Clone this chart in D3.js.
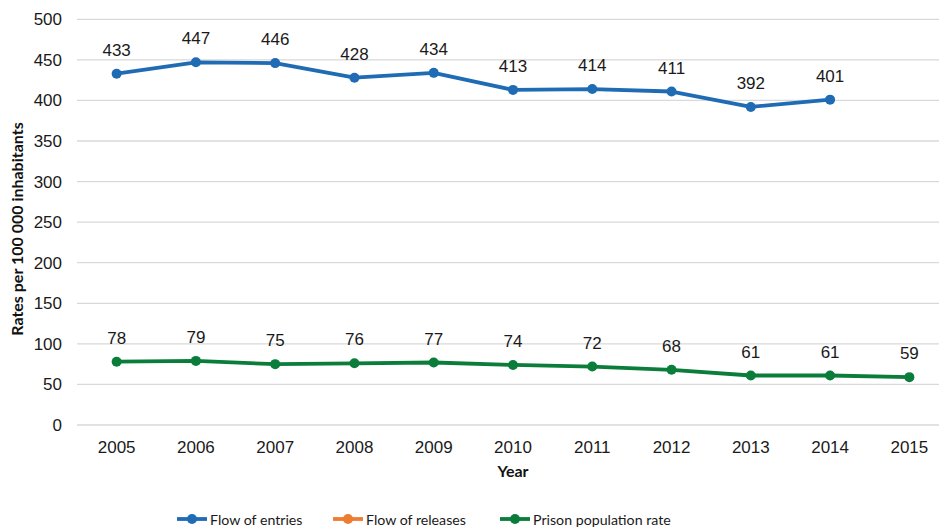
<!DOCTYPE html>
<html><head><meta charset="utf-8">
<script src="https://cdn.jsdelivr.net/npm/d3@7"></script>
<style>
html,body{margin:0;padding:0;background:#fff;}
svg{display:block;}
</style></head>
<body>
<svg id="chart" width="939" height="529"></svg>
<script>
const years = ["2005","2006","2007","2008","2009","2010","2011","2012","2013","2014","2015"];
const flowOfEntries = [433,447,446,428,434,413,414,411,392,401,null];
const flowOfReleases = [null,null,null,null,null,null,null,null,null,null,null];
const prisonPopulationRate = [78,79,75,76,77,74,72,68,61,61,59];
const yTicks = [0,50,100,150,200,250,300,350,400,450,500];
const seriesNames = ["Flow of entries","Flow of releases","Prison population rate"];
const seriesColors = ["#1f6cb4","#ed7d31","#0b7d3a"];

const series = [flowOfEntries, flowOfReleases, prisonPopulationRate];
const svg = d3.select("#chart");
const x = d3.scaleBand().domain(years).range([77, 949]);
const y = d3.scaleLinear().domain([0,500]).range([425, 19.3]);
const numFont = "'Liberation Sans', Arial, sans-serif";

// gridlines
svg.append("g").selectAll("line").data(yTicks).join("line")
  .attr("x1", 77).attr("x2", 939)
  .attr("y1", d => y(d)).attr("y2", d => y(d))
  .attr("stroke", "#d9d9d9").attr("stroke-width", 1.3);

// y axis labels
const yAxis = d3.axisLeft(y).tickValues(yTicks).tickSize(0).tickPadding(0);
const gy = svg.append("g").attr("transform","translate(62,0)").call(yAxis);
gy.select(".domain").remove();
gy.selectAll("text").attr("font-family",numFont).attr("font-size",17).attr("fill","#1a1a1a");

// x axis labels
const xAxis = d3.axisBottom(x).tickSize(0).tickPadding(0);
const gx = svg.append("g").attr("transform","translate(0,441)").call(xAxis);
gx.select(".domain").remove();
gx.selectAll("text").attr("font-family",numFont).attr("font-size",17).attr("fill","#1a1a1a");

// axis titles
svg.append("text").attr("x", 513).attr("y", 477).attr("text-anchor","middle")
  .attr("font-family","Lato, sans-serif").attr("font-weight","bold").attr("font-size",16).attr("fill","#111")
  .text("Year");
svg.append("text").attr("transform","translate(23,229) rotate(-90)").attr("text-anchor","middle")
  .attr("font-family","Lato, sans-serif").attr("font-weight","bold").attr("font-size",16).attr("fill","#111")
  .text("Rates per 100 000 inhabitants");

const cx = d => x(d) + x.bandwidth()/2;
const line = d3.line().defined(d => d.v != null).x(d => cx(d.year)).y(d => y(d.v));

series.forEach((vals, i) => {
  const pts = years.map((yr, j) => ({year: yr, v: vals[j]}));
  const g = svg.append("g");
  g.append("path").datum(pts).attr("d", line).attr("fill","none")
    .attr("stroke", seriesColors[i]).attr("stroke-width", 3.8).attr("stroke-linejoin","round");
  const valid = pts.filter(d => d.v != null);
  g.selectAll("circle").data(valid).join("circle")
    .attr("cx", d => cx(d.year)).attr("cy", d => y(d.v)).attr("r", 5).attr("fill", seriesColors[i]);
  g.selectAll("text").data(valid).join("text")
    .attr("x", d => cx(d.year)).attr("y", d => y(d.v) - 18).attr("text-anchor","middle")
    .attr("font-family",numFont).attr("font-size",17).attr("fill","#1a1a1a")
    .text(d => d.v);
});

// legend
const legendX = [177, 333, 500];
const lg = svg.append("g");
seriesNames.forEach((name, i) => {
  const gx0 = legendX[i];
  lg.append("line").attr("x1", gx0).attr("x2", gx0 + 30).attr("y1", 519).attr("y2", 519)
    .attr("stroke", seriesColors[i]).attr("stroke-width", 3.8);
  lg.append("circle").attr("cx", gx0 + 15).attr("cy", 519).attr("r", 5).attr("fill", seriesColors[i]);
  lg.append("text").attr("x", gx0 + 33).attr("y", 524.5)
    .attr("font-family","Lato, sans-serif").attr("font-size",14.2).attr("fill","#1a1a1a")
    .text(name);
});
</script>
</body></html>
